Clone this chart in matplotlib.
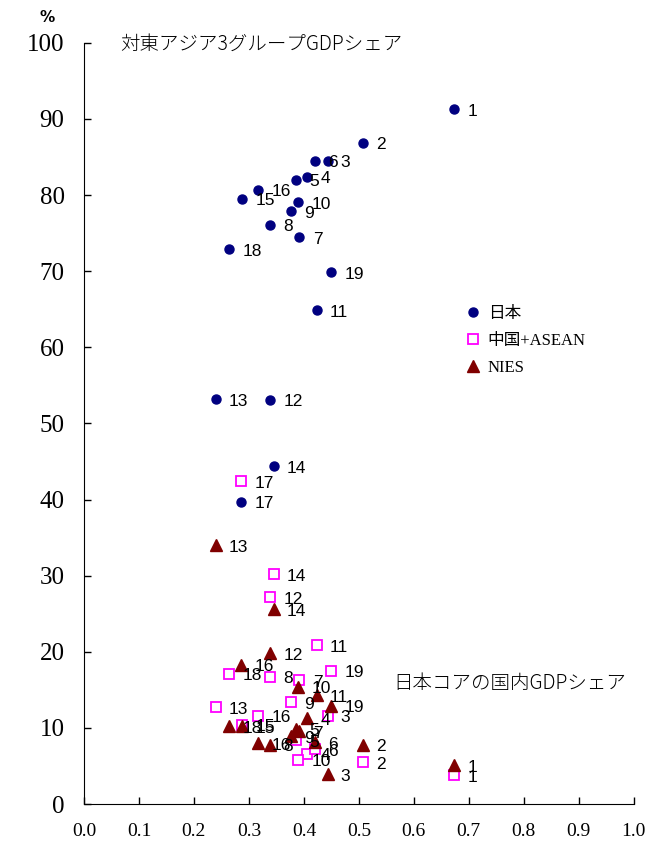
import numpy as np
import matplotlib.pyplot as plt

plt.rcParams['font.family'] = ['Liberation Serif', 'Noto Sans CJK JP', 'DejaVu Sans']

# 年次番号 1..19
labels = [str(i) for i in range(1, 20)]
xval = [0.673, 0.508, 0.443, 0.406, 0.386, 0.421, 0.392, 0.339, 0.376, 0.390,
        0.423, 0.339, 0.240, 0.345, 0.288, 0.317, 0.286, 0.264, 0.450]
japan = [91.3, 86.9, 84.5, 82.4, 82.0, 84.5, 74.5, 76.1, 77.9, 79.1,
         64.9, 53.1, 53.2, 44.4, 79.5, 80.7, 39.7, 72.9, 69.9]
china_asean = [3.8, 5.5, 11.6, 6.6, 8.4, 7.2, 16.3, 16.7, 13.4, 5.8,
               20.9, 27.2, 12.7, 30.2, 10.4, 11.6, 42.4, 17.1, 17.5]
nies = [5.1, 7.8, 3.9, 11.3, 9.9, 8.1, 9.6, 7.8, 8.9, 15.4,
        14.3, 19.8, 34.0, 25.6, 10.2, 8.0, 18.3, 10.2, 12.9]
# 元図のラベルそのまま（17番目の三角は「16」と表示されている）
nies_labels = labels[:16] + ['16'] + labels[17:]

fig = plt.figure(figsize=(6.46, 8.42), dpi=100)
ax = fig.add_axes([0.130, 0.0451, 0.851, 0.904])

ax.plot(xval, japan, 'o', color='#000080', ms=6.5, label='日本', zorder=3)
ax.plot(xval, china_asean, 's', mfc='white', mec='#FF00FF', mew=1.3, ms=6.5,
        label='中国+ASEAN', zorder=3)
ax.plot(xval, nies, '^', color='#800000', ms=8.5, label='NIES', zorder=3)

lab_font = dict(family=['Liberation Sans Narrow', 'Liberation Sans'], fontsize=12.5)
for xs, ys, ls in [(xval, japan, labels), (xval, china_asean, labels), (xval, nies, nies_labels)]:
    for x, y, t in zip(xs, ys, ls):
        ax.annotate(t, (x, y), xytext=(9.5, -1.5), textcoords='offset points',
                    ha='left', va='center', **lab_font)

ax.set_xlim(0, 1.0)
ax.set_ylim(0, 100)
ax.set_xticks(np.arange(0, 1.01, 0.1))
ax.set_yticks(np.arange(0, 101, 10))
ax.set_xticklabels(['%.1f' % v for v in np.arange(0, 1.01, 0.1)], fontsize=14)
ax.set_yticklabels([str(v) for v in range(0, 101, 10)], fontsize=18)
ax.tick_params(axis='both', direction='in', length=5, width=1)
ax.tick_params(axis='x', pad=14)
ax.tick_params(axis='y', pad=14)
ax.spines['top'].set_visible(False)
ax.spines['right'].set_visible(False)

ax.text(0.065, 99.8, '対東アジア3グループGDPシェア', va='center', ha='left',
        fontsize=14, family=['Noto Sans CJK JP'], fontweight='light')
ax.text(0.562, 15.9, '日本コアの国内GDPシェア', va='center', ha='left',
        fontsize=14, family=['Noto Sans CJK JP'], fontweight='light')
fig.text(47 / 646, 1 - 18 / 842, '%', ha='center', va='center', fontsize=11,
         family=['DejaVu Sans'], fontweight='bold')

ax.legend(loc='upper left', bbox_to_anchor=(0.68, 0.665), frameon=False,
          handlelength=0.8, handletextpad=0.5, labelspacing=0.65, borderpad=0,
          prop={'size': 12})

fig.savefig('out.png', dpi=100)
